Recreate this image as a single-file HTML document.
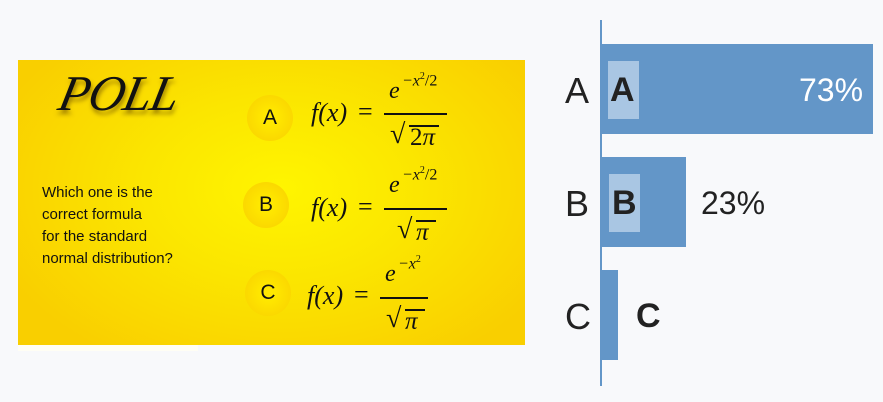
<!DOCTYPE html>
<html><head><style>
body{margin:0;width:883px;height:402px;background:#f8f9fb;position:relative;overflow:hidden;font-family:"Liberation Sans",sans-serif}
.a{position:absolute;white-space:nowrap}
.panel{left:18px;top:60px;width:507px;height:285px;background:radial-gradient(ellipse 60% 70% at 52% 45%,#fff500 0%,#fbe600 45%,#f9cf00 100%)}
.circ{width:46px;height:46px;border-radius:50%;background:radial-gradient(circle,#ffe800 20%,#f8cf00 100%);font-size:21px;text-align:center;line-height:46px;color:#111}
.m{font-family:"Liberation Serif",serif;font-style:italic;color:#111}
.r{font-family:"Liberation Serif",serif;color:#111}
.fl{height:1.6px;background:#111}
.q{font-size:15px;line-height:22px;color:#111}
.bar{background:#6396c8}
.lb{background:#a9c6e3}
.big{font-family:"Liberation Sans",sans-serif;color:#222}
</style></head><body>
<div class="a panel"></div>
<div class="a" style="left:18px;top:345px;width:180px;height:6px;background:#fffef4"></div>
<div class="a m" style="left:60px;top:64px;font-size:50px;transform:skewX(-12deg);letter-spacing:-1px;text-shadow:2px 4px 4px rgba(100,70,0,.6)">POLL</div>
<div class="a q" style="left:42px;top:182px">Which one is the<br>correct formula<br>for the standard<br>normal distribution?</div>

<div class="a circ" style="left:247px;top:95px">A</div>
<div class="a m" style="left:311px;top:98px;font-size:26px">f<span class="r">(</span>x<span class="r">)</span></div>
<div class="a r" style="left:358px;top:97px;font-size:26px">=</div>
<div class="a fl" style="left:384px;top:113px;width:63px"></div>
<div class="a m" style="left:389px;top:78px;font-size:24px">e</div>
<div class="a m" style="left:402px;top:71px;font-size:16px">−x<sup style="font-size:10px;font-style:normal">2</sup><span style="font-style:normal">/2</span></div>
<div class="a r" style="left:390px;top:119px;font-size:28px">√</div>
<div class="a" style="left:409px;top:125px;width:30px;height:1.5px;background:#111"></div>
<div class="a m" style="left:410px;top:124px;font-size:25px"><span style="font-style:normal">2</span>π</div>

<div class="a circ" style="left:243px;top:182px">B</div>
<div class="a m" style="left:311px;top:193px;font-size:26px">f<span class="r">(</span>x<span class="r">)</span></div>
<div class="a r" style="left:358px;top:192px;font-size:26px">=</div>
<div class="a fl" style="left:384px;top:208px;width:63px"></div>
<div class="a m" style="left:389px;top:172px;font-size:24px">e</div>
<div class="a m" style="left:402px;top:165px;font-size:16px">−x<sup style="font-size:10px;font-style:normal">2</sup><span style="font-style:normal">/2</span></div>
<div class="a r" style="left:397px;top:214px;font-size:28px">√</div>
<div class="a" style="left:416px;top:220px;width:20px;height:1.5px;background:#111"></div>
<div class="a m" style="left:416px;top:219px;font-size:25px">π</div>

<div class="a circ" style="left:245px;top:270px">C</div>
<div class="a m" style="left:307px;top:281px;font-size:26px">f<span class="r">(</span>x<span class="r">)</span></div>
<div class="a r" style="left:354px;top:280px;font-size:26px">=</div>
<div class="a fl" style="left:380px;top:297px;width:48px"></div>
<div class="a m" style="left:385px;top:261px;font-size:24px">e</div>
<div class="a m" style="left:398px;top:254px;font-size:16px">−x<sup style="font-size:10px;font-style:normal">2</sup></div>
<div class="a r" style="left:386px;top:303px;font-size:28px">√</div>
<div class="a" style="left:405px;top:309px;width:20px;height:1.5px;background:#111"></div>
<div class="a m" style="left:405px;top:308px;font-size:25px">π</div>

<div class="a" style="left:600px;top:20px;width:2px;height:366px;background:#6396c8"></div>
<div class="a bar" style="left:601px;top:44px;width:272px;height:90px"></div>
<div class="a bar" style="left:601px;top:157px;width:85px;height:90px"></div>
<div class="a bar" style="left:601px;top:270px;width:17px;height:90px"></div>
<div class="a lb" style="left:608px;top:61px;width:31px;height:58px"></div>
<div class="a lb" style="left:609px;top:174px;width:31px;height:58px"></div>
<div class="a big" style="left:565px;top:70px;font-size:36px">A</div>
<div class="a big" style="left:565px;top:183px;font-size:36px">B</div>
<div class="a big" style="left:565px;top:296px;font-size:36px">C</div>
<div class="a big" style="left:610px;top:71px;font-size:34px;font-weight:bold">A</div>
<div class="a big" style="left:612px;top:184px;font-size:34px;font-weight:bold">B</div>
<div class="a big" style="left:636px;top:297px;font-size:34px;font-weight:bold">C</div>
<div class="a big" style="left:799px;top:72px;font-size:32px;color:#fff">73%</div>
<div class="a big" style="left:701px;top:185px;font-size:32px">23%</div>
</body></html>
